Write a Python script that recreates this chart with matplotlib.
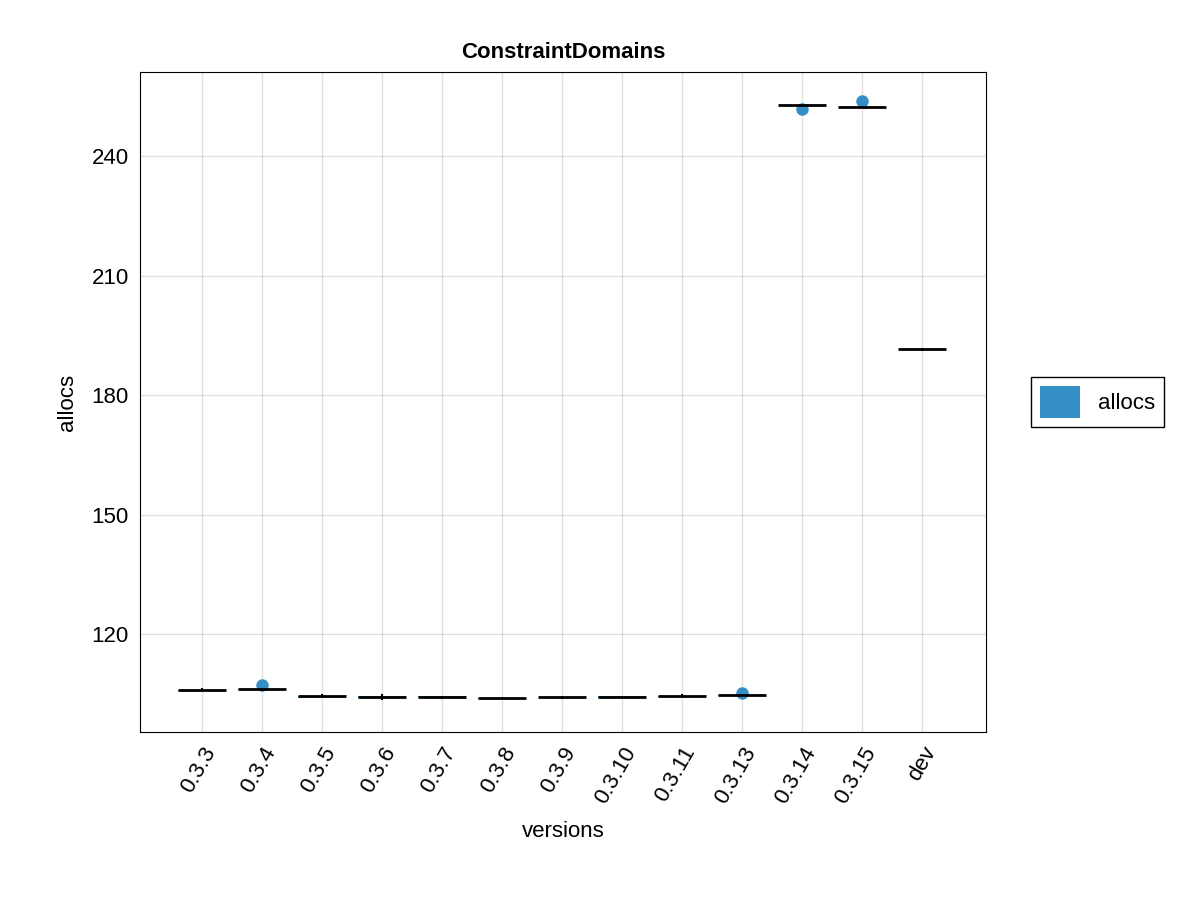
import matplotlib.pyplot as plt
from matplotlib.patches import Patch

plt.rcParams['font.family'] = ['Liberation Sans', 'DejaVu Sans']

versions = ["0.3.3", "0.3.4", "0.3.5", "0.3.6", "0.3.7", "0.3.8", "0.3.9",
            "0.3.10", "0.3.11", "0.3.13", "0.3.14", "0.3.15", "dev"]
medians = [105.9, 106.2, 104.4, 104.2, 104.3, 103.9, 104.2, 104.3, 104.4, 104.7, 252.8, 252.3, 191.5]
q1 = [105.8, 106.0, 103.9, 103.9, 104.1, 103.8, 104.1, 103.9, 104.3, 104.5, 252.8, 252.3, 191.5]
q3 = [106.0, 106.3, 104.5, 104.4, 104.5, 104.0, 104.3, 104.4, 104.5, 104.8, 252.8, 252.4, 191.5]
whislo = [105.6, 106.0, 104.0, 103.7, 104.0, 103.8, 104.0, 104.0, 104.1, 104.5, 252.8, 252.2, 191.4]
whishi = [106.3, 106.3, 104.7, 104.7, 104.5, 104.0, 104.3, 104.4, 104.6, 104.9, 252.8, 252.6, 191.6]
outliers = [[], [107.2], [], [], [], [], [], [], [], [105.2], [251.8], [253.8], []]

blue = "#348fc6"
fig = plt.figure(figsize=(12, 9), dpi=100)
ax = fig.add_axes([140/1200, 1 - 732/900, 846/1200, 660/900])

stats = []
for i, v in enumerate(versions):
    stats.append({"med": medians[i], "q1": q1[i], "q3": q3[i], "whislo": whislo[i],
                  "whishi": whishi[i], "fliers": outliers[i], "label": v})
pos = list(range(1, len(versions) + 1))
ax.bxp(stats, positions=pos, widths=0.8, patch_artist=True, showcaps=False,
       boxprops=dict(facecolor=blue, edgecolor="none"),
       medianprops=dict(color="black", linewidth=2),
       whiskerprops=dict(color="black", linewidth=1.5),
       flierprops=dict(marker="o", markerfacecolor=blue, markeredgecolor="none", markersize=9))

ax.set_xlim(-0.03, 14.07)
ax.set_ylim(95.4, 261.1)
ax.set_yticks([120, 150, 180, 210, 240])
ax.set_xticks(pos)
ax.set_xticklabels(versions, rotation=60, ha="right", rotation_mode="anchor", fontsize=16)
ax.tick_params(axis="both", length=0, pad=8, labelsize=16)
ax.grid(True, color="#000000", alpha=0.12, linewidth=1)
ax.set_axisbelow(True)
ax.set_xlabel("versions", fontsize=16, labelpad=10)
ax.set_ylabel("allocs", fontsize=16, labelpad=10)
ax.set_title("ConstraintDomains", fontsize=16, fontweight="bold", pad=10)

fig.legend(handles=[Patch(facecolor=blue, label="allocs")], loc="center left",
           bbox_to_anchor=(1020/1200, 1 - 402/900), fontsize=16, fancybox=False,
           edgecolor="black", handlelength=1.8, handleheight=1.8, framealpha=1)

fig.savefig("out.png")
